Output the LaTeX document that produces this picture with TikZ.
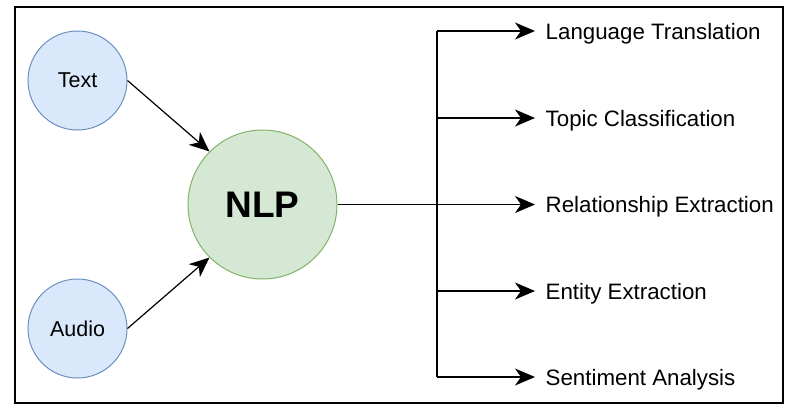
\documentclass[tikz,border=0pt]{standalone}
\usepackage{fontspec}
\setmainfont{Liberation Sans}
\usetikzlibrary{arrows.meta}
\definecolor{bluefill}{HTML}{DAE8FC}
\definecolor{bluedraw}{HTML}{6C8EBF}
\definecolor{greenfill}{HTML}{D5E8D4}
\definecolor{greendraw}{HTML}{82B366}
\tikzset{
  src/.style={circle, minimum size=99pt, inner sep=0pt, draw=bluedraw, fill=bluefill, line width=1pt,
    font=\fontsize{21.5}{24}\selectfont},
  hub/.style={circle, minimum size=149pt, inner sep=0pt, draw=greendraw, fill=greenfill, line width=1pt,
    font=\fontsize{37}{40}\selectfont\bfseries},
  lbl/.style={anchor=west, inner xsep=10.5pt, inner ysep=0pt, text height=21pt, text depth=5pt,
    font=\fontsize{22.3}{25}\selectfont},
  arr/.style={-{Stealth[length=20pt,width=17pt,inset=6pt]}, line width=1.2pt},
  wire/.style={line width=1.2pt}
}
\begin{document}
\begin{tikzpicture}[x=1pt,y=-1pt]
\useasboundingbox (0,0) rectangle (791,415);
\draw[line width=1.4pt] (15,7) rectangle (783,403);
\node[src] (txt) at (77.5,80.5) {Text};
\node[src] (aud) at (77.5,328.5) {Audio};
\node[hub] (nlp) at (262.5,204.5) {NLP};
\node[lbl] (l1) at (535,31) {Language Translation};
\node[lbl] (l2) at (535,118) {Topic Classification};
\node[lbl] (l3) at (535,204.5) {Relationship Extraction};
\node[lbl] (l4) at (535,291) {Entity Extraction};
\node[lbl] (l5) at (535,377) {Sentiment Analysis};
\coordinate (jt) at (437,31);
\coordinate (jb) at (437,377);
\draw[arr] (txt.east) -- (nlp.135);
\draw[arr] (aud.east) -- (nlp.225);
\draw[wire] (jt) -- (jb);
\draw[arr] (jt) -- (l1.west);
\draw[arr] (l2.west -| jt) -- (l2.west);
\draw[arr] (nlp.east) -- (l3.west);
\draw[arr] (l4.west -| jt) -- (l4.west);
\draw[arr] (jb) -- (l5.west);
\end{tikzpicture}
\end{document}
